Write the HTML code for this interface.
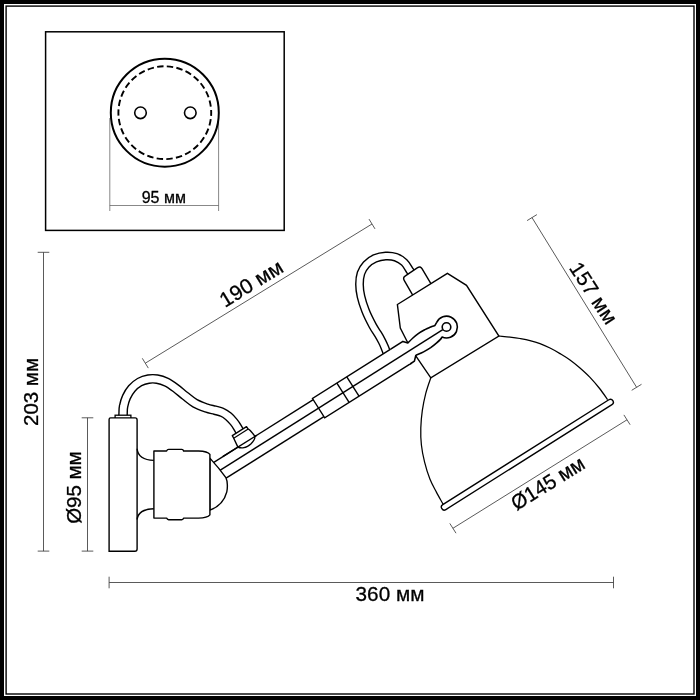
<!DOCTYPE html>
<html lang="ru">
<head>
<meta charset="utf-8">
<title>Схема светильника</title>
<style>
html,body{margin:0;padding:0;background:#fff;}
body{width:700px;height:700px;overflow:hidden;position:relative;}
svg{display:block;position:absolute;left:0;top:0;will-change:transform;}
text{font-family:"Liberation Sans",sans-serif;fill:#000;stroke:#000;stroke-width:0.3px;}
</style>
</head>
<body>
<svg width="700" height="700" viewBox="0 0 700 700">
<rect x="0" y="0" width="700" height="700" fill="#fff"/>
<!-- frame -->
<rect x="2" y="2" width="696" height="696" fill="none" stroke="#000" stroke-width="4"/>
<rect x="6.1" y="6.1" width="687.9" height="687.9" fill="none" stroke="#000" stroke-width="1.4"/>
<!-- inset: mounting plate -->
<rect x="45.6" y="31.8" width="238.6" height="198.6" fill="#fff" stroke="#000" stroke-width="1.5"/>
<g stroke="#555" stroke-width="0.7" fill="none">
<path d="M109.8,118 L109.8,211 M218.6,118 L218.6,211 M109.8,205.5 L218.6,205.5"/>
</g>
<circle cx="164.8" cy="112.7" r="54" fill="#fff" stroke="#000" stroke-width="2"/>
<circle cx="164.8" cy="112.7" r="46.4" fill="none" stroke="#000" stroke-width="1.9" stroke-dasharray="6.4 3.318" stroke-dashoffset="3.2"/>
<circle cx="140.5" cy="112.8" r="5.8" fill="#fff" stroke="#000" stroke-width="1.6"/>
<circle cx="190.3" cy="112.8" r="5.8" fill="#fff" stroke="#000" stroke-width="1.6"/>
<text x="141.7" y="202.5" font-size="15.8" textLength="44.2" lengthAdjust="spacingAndGlyphs">95 мм</text>
<!-- dimension lines -->
<g stroke="#3c3c3c" stroke-width="0.85" fill="none">
<path d="M43.5,252.3 L43.5,551.1 M49.3,252.3 L37.7,252.3 M49.3,551.1 L37.7,551.1"/>
<path d="M87.5,417.8 L87.5,551.1 M93.3,417.8 L81.7,417.8 M93.3,551.1 L81.7,551.1"/>
<path d="M109.1,582.5 L613.5,582.5 M109.1,576.7 L109.1,588.3 M613.5,576.7 L613.5,588.3"/>
<path d="M145.3,363.2 L372.0,224.0 M142.3,358.3 L148.3,368.1 M369.0,219.1 L375.0,228.9"/>
<path d="M532.0,217.6 L636.6,387.3 M536.9,214.6 L527.1,220.6 M641.5,384.3 L631.7,390.3"/>
<path d="M452.9,528.3 L627.0,419.8 M449.8,523.4 L456.0,533.2 M623.9,414.9 L630.1,424.7"/>
</g>
<!-- lamp -->
<path d="M414.5,277.5 C413.8,276.4 411.7,273.3 410.0,270.8 C408.3,268.3 406.6,264.7 404.2,262.4 C401.8,260.1 398.8,258.3 395.7,257.2 C392.6,256.1 389.1,255.8 385.7,256.0 C382.2,256.2 378.2,257.0 375.0,258.4 C371.8,259.8 368.6,262.0 366.3,264.5 C364.0,267.0 362.1,269.9 361.0,273.2 C359.9,276.5 359.5,280.4 359.5,284.3 C359.5,288.2 360.0,292.1 361.0,296.5 C362.0,300.9 363.6,305.8 365.5,310.7 C367.4,315.6 370.6,321.8 372.7,325.7 C374.8,329.6 376.4,331.6 378.0,334.2 C379.6,336.8 380.9,339.2 382.0,341.3 C383.1,343.4 383.9,345.3 384.6,347.0 C385.3,348.7 385.6,349.5 386.3,351.3 C387.0,353.1 388.4,356.9 388.8,358.0" fill="none" stroke="#000" stroke-width="8.9"/>
<path d="M414.5,277.5 C413.8,276.4 411.7,273.3 410.0,270.8 C408.3,268.3 406.6,264.7 404.2,262.4 C401.8,260.1 398.8,258.3 395.7,257.2 C392.6,256.1 389.1,255.8 385.7,256.0 C382.2,256.2 378.2,257.0 375.0,258.4 C371.8,259.8 368.6,262.0 366.3,264.5 C364.0,267.0 362.1,269.9 361.0,273.2 C359.9,276.5 359.5,280.4 359.5,284.3 C359.5,288.2 360.0,292.1 361.0,296.5 C362.0,300.9 363.6,305.8 365.5,310.7 C367.4,315.6 370.6,321.8 372.7,325.7 C374.8,329.6 376.4,331.6 378.0,334.2 C379.6,336.8 380.9,339.2 382.0,341.3 C383.1,343.4 383.9,345.3 384.6,347.0 C385.3,348.7 385.6,349.5 386.3,351.3 C387.0,353.1 388.4,356.9 388.8,358.0" fill="none" stroke="#fff" stroke-width="6.1"/>
<path d="M123.0,418.0 C123.0,417.2 123.0,414.9 123.1,413.0 C123.2,411.1 123.0,409.0 123.6,406.4 C124.1,403.8 125.0,400.1 126.4,397.1 C127.8,394.1 129.6,391.0 131.8,388.5 C134.0,386.0 136.8,383.7 139.6,382.1 C142.4,380.5 145.6,379.6 148.5,379.1 C151.4,378.6 154.1,378.6 157.1,379.1 C160.1,379.6 163.3,380.6 166.4,382.1 C169.5,383.6 172.6,385.9 175.7,388.2 C178.8,390.5 181.8,393.2 185.0,395.7 C188.2,398.2 191.4,401.1 195.0,403.2 C198.6,405.2 203.2,406.8 206.5,408.0 C209.8,409.2 212.4,409.5 215.0,410.2 C217.6,410.9 220.0,411.3 222.3,412.4 C224.6,413.4 226.7,414.9 228.6,416.5 C230.5,418.1 232.3,420.2 233.8,422.0 C235.3,423.8 236.5,425.7 237.4,427.2 C238.3,428.7 238.9,429.7 239.5,430.9 C240.1,432.1 240.9,433.6 241.2,434.2" fill="none" stroke="#000" stroke-width="9.7"/>
<path d="M123.0,418.0 C123.0,417.2 123.0,414.9 123.1,413.0 C123.2,411.1 123.0,409.0 123.6,406.4 C124.1,403.8 125.0,400.1 126.4,397.1 C127.8,394.1 129.6,391.0 131.8,388.5 C134.0,386.0 136.8,383.7 139.6,382.1 C142.4,380.5 145.6,379.6 148.5,379.1 C151.4,378.6 154.1,378.6 157.1,379.1 C160.1,379.6 163.3,380.6 166.4,382.1 C169.5,383.6 172.6,385.9 175.7,388.2 C178.8,390.5 181.8,393.2 185.0,395.7 C188.2,398.2 191.4,401.1 195.0,403.2 C198.6,405.2 203.2,406.8 206.5,408.0 C209.8,409.2 212.4,409.5 215.0,410.2 C217.6,410.9 220.0,411.3 222.3,412.4 C224.6,413.4 226.7,414.9 228.6,416.5 C230.5,418.1 232.3,420.2 233.8,422.0 C235.3,423.8 236.5,425.7 237.4,427.2 C238.3,428.7 238.9,429.7 239.5,430.9 C240.1,432.1 240.9,433.6 241.2,434.2" fill="none" stroke="#fff" stroke-width="6.9"/>
<rect x="115.1" y="415.2" width="15.8" height="5" fill="#fff" stroke="#000" stroke-width="1.3"/>
<path d="M109.1,419.4 Q109.1,417.9 110.6,417.9 L135.1,417.9 Q137.1,417.9 137.1,419.9 L137.1,549.1 Q137.1,551.3 134.9,551.3 L109.1,551.3 Z" fill="#fff" stroke="#000" stroke-width="1.4" stroke-linejoin="miter"/>
<path d="M137.1,448.8 C137.8,456 143,460.2 153.9,460.4" fill="none" stroke="#000" stroke-width="1.4"/>
<path d="M137.1,519.5 C137.8,513 143,509 153.9,508.7" fill="none" stroke="#000" stroke-width="1.4"/>
<path d="M206.7,466.8 L313.3,399.7 L323.9,416.6 L217.3,483.7 Z" fill="#fff" stroke="none"/>
<path d="M206.7,466.8 L313.3,399.7" fill="none" stroke="#000" stroke-width="1.4"/>
<path d="M212.0,475.3 L318.6,408.1" fill="none" stroke="#000" stroke-width="1.4"/>
<path d="M217.3,483.7 L323.9,416.6" fill="none" stroke="#000" stroke-width="1.4"/>
<path d="M209.9,458.1 Q219,468 225.9,477.7 C227.6,481 227.7,488 226.8,491.8 C224.7,500 218.5,506.8 209.9,510.2 Z" fill="#fff" stroke="#000" stroke-width="1.4" stroke-linejoin="round"/>
<path d="M153.9,451 L166.6,451 C167.2,449.5 167.6,449.4 168.6,449.4 L181.8,449.4 C182.8,449.4 183.2,449.5 183.6,451 L198.5,451 C204,451.2 208.3,452.2 209.9,454.3 L209.9,514.9 C208.3,517 204,518 198.5,518.1 L183.6,518.1 C183.2,519.6 182.8,519.7 181.8,519.7 L168.6,519.7 C167.6,519.7 167.2,519.6 166.6,518.1 L153.9,518.1 Z" fill="#fff" stroke="#000" stroke-width="1.4" stroke-linejoin="round"/>
<path d="M237.9,447.1 L233.6,438.0 L232.3,435.6 L246.5,426.7 L247.9,428.6 C248.3,428.9 249.4,429.7 250.2,430.5 C251.0,431.3 251.9,432.4 252.7,433.4 C253.5,434.4 254.6,435.5 254.8,436.6 C255.0,437.7 254.7,438.8 254.0,440.0 C253.3,441.2 251.9,442.8 250.8,443.9 C249.7,444.9 248.7,445.7 247.5,446.3 C246.3,446.9 245.1,447.4 243.9,447.6 C242.8,447.9 241.6,447.9 240.6,447.8 C239.6,447.7 238.3,447.2 237.9,447.1 Z" fill="#fff" stroke="#000" stroke-width="1.4" stroke-linejoin="round"/>
<path d="M233.7,438.2 L248.2,429.1" fill="none" stroke="#000" stroke-width="1.2"/>
<path d="M222.7,456.7 L256.7,435.3" fill="none" stroke="#000" stroke-width="1.4"/>
<path d="M312.5,398.5 L396.9,345.3 L408.8,344.2 L423.2,349.3 L413.6,361.8 L324.7,417.8 Z" fill="#fff" stroke="none"/>
<path d="M390.7,349.2 L312.5,398.5 L324.7,417.8 L411.1,363.3" fill="none" stroke="#000" stroke-width="1.4" stroke-linejoin="miter"/>
<path d="M336.9,383.1 L349.1,402.4" fill="none" stroke="#000" stroke-width="1.4"/>
<path d="M346.8,376.9 L359.0,396.2" fill="none" stroke="#000" stroke-width="1.4"/>
<path d="M412.7,295.2 L404.2,280.4 Q402.6,277.6 405.4,275.9 L417.6,267.7 Q420.3,265.9 422,268.7 L430.9,283.6" fill="#fff" stroke="#000" stroke-width="1.4" stroke-linejoin="round"/>
<path d="M407.9,343.0 L400.3,328.0 L397.4,304.5 L447.4,273.4 L466.5,285.3 L498.9,336.0 L430.8,377.8 L415.6,355.6 L414.4,360.8 L403.0,342.0 Z" fill="#fff" stroke="none"/>
<path d="M407.9,343.0 L400.3,328.0 L397.4,304.5 L447.4,273.4 L466.5,285.3 L498.9,336.0 L430.8,377.8 L415.6,355.6" fill="none" stroke="#000" stroke-width="1.4" stroke-linejoin="miter"/>
<path d="M390.7,349.2 L402.9,341.4 L407.9,343.0  C408.7,342.2 411.1,339.6 412.9,338.0 C414.7,336.4 416.6,334.8 418.6,333.4 C420.6,332.0 423.0,330.7 425.0,329.6 C427.0,328.6 429.1,327.8 430.7,327.1 C432.3,326.4 434.1,325.9 434.8,325.6 L436.7,322.3 A10.9,10.9 0 1 1 442.1,337.0 C441.8,337.4 441.3,338.4 440.4,339.4 C439.5,340.4 438.0,341.8 436.4,343.2 C434.8,344.6 432.8,346.2 430.7,347.7 C428.6,349.1 426.1,350.6 423.6,351.9 C421.1,353.2 417.1,354.8 415.8,355.4 L414.4,361.1 L410.1,364.0" fill="#fff" stroke="#000" stroke-width="1.6" stroke-linejoin="round"/>
<circle cx="446.5" cy="327.0" r="4.3" fill="#fff" stroke="#000" stroke-width="1.6"/>
<path d="M318.6,408.1 L442.8,329.6" fill="none" stroke="#000" stroke-width="1.4"/>
<path d="M498.9,336.0 C500.8,336.2 506.5,336.7 510.0,337.1 C513.5,337.5 516.7,337.9 520.0,338.5 C523.3,339.1 526.7,339.7 530.0,340.6 C533.3,341.5 536.7,342.5 540.0,343.7 C543.3,344.9 546.7,346.4 550.0,348.0 C553.3,349.6 556.7,351.6 560.0,353.6 C563.3,355.6 566.7,357.6 570.0,360.0 C573.3,362.4 576.7,365.1 580.0,368.0 C583.3,370.9 586.7,373.9 590.0,377.4 C593.3,380.9 597.1,385.3 600.0,389.0 C602.9,392.7 606.3,397.8 607.6,399.6" fill="none" stroke="#000" stroke-width="1.25"/>
<path d="M430.8,377.8 C429.9,380.4 427.1,388.1 425.7,393.6 C424.3,399.1 423.1,405.0 422.3,410.7 C421.5,416.4 421.0,422.2 420.8,427.9 C420.6,433.6 420.8,439.3 421.4,445.0 C422.0,450.7 423.2,456.4 424.6,462.1 C426.0,467.8 428.0,474.3 430.0,479.3 C432.0,484.3 434.2,487.9 436.4,492.1 C438.6,496.3 442.1,502.3 443.2,504.4" fill="none" stroke="#000" stroke-width="1.25"/>
<path d="M444.3,507.1 L610.4,402.2" fill="none" stroke="#000" stroke-width="7.2" stroke-linecap="round"/>
<path d="M444.3,507.1 L610.4,402.2" fill="none" stroke="#fff" stroke-width="4.4" stroke-linecap="round"/>
<!-- labels -->
<text x="355.6" y="600.9" font-size="20.8" textLength="68.8" lengthAdjust="spacingAndGlyphs">360 мм</text>
<text transform="translate(38.2,426) rotate(-90)" font-size="20.8" textLength="68" lengthAdjust="spacingAndGlyphs">203 мм</text>
<text transform="translate(81.2,523.8) rotate(-90)" font-size="20.8" textLength="72.4" lengthAdjust="spacingAndGlyphs">Ø95 мм</text>
<text transform="translate(224.9,308.0) rotate(-31.7)" font-size="20.8" textLength="70.4" lengthAdjust="spacingAndGlyphs">190 мм</text>
<text transform="translate(568.6,268.1) rotate(56.8)" font-size="20.8" textLength="69.2" lengthAdjust="spacingAndGlyphs">157 мм</text>
<text transform="translate(516.6,511.0) rotate(-31.9)" font-size="20.8" textLength="82.4" lengthAdjust="spacingAndGlyphs">Ø145 мм</text>
</svg>
</body>
</html>
